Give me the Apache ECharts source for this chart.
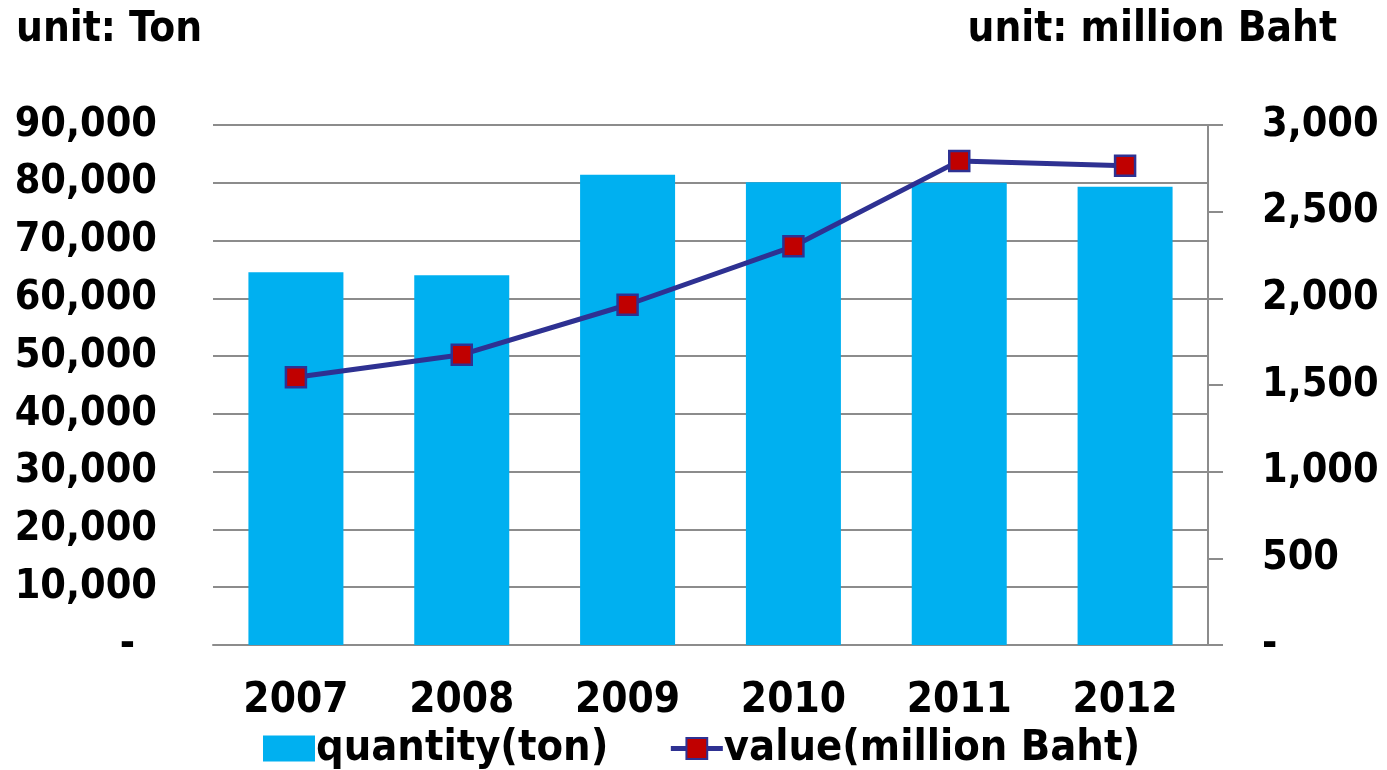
<!DOCTYPE html>
<html>
<head>
<meta charset="utf-8">
<script src="https://cdn.jsdelivr.net/npm/echarts@6/dist/echarts.min.js"></script>
<style>
html,body{margin:0;padding:0;background:#fff;}
#chart{width:1387px;height:770px;}
</style>
</head>
<body>
<div id="chart"></div>
<script>
const years = ['2007','2008','2009','2010','2011','2012'];
const quantityTon = [64500, 64000, 81400, 80100, 80000, 79300];
const valueMillionBaht = [1545, 1675, 1963, 2300, 2793, 2765];
const leftTicks = {min: 0, max: 90000, interval: 10000};
const rightTicks = {min: 0, max: 3000, interval: 500};
const titleLeft = 'unit: Ton';
const titleRight = 'unit: million Baht';
const seriesNames = ['quantity(ton)', 'value(million Baht)'];

const FONT = '"DejaVu Sans Condensed", "DejaVu Sans", Verdana, sans-serif';
const FS = 41;
const txt = {fontFamily: FONT, fontWeight: 'bold', fontSize: FS, color: '#000'};
const fmtLeft = v => v === 0 ? '{d|-}' : v.toLocaleString('en-US');
const fmtRight = v => v === 0 ? '-' : v.toLocaleString('en-US');
const chart = echarts.init(document.getElementById('chart'));
chart.setOption({
  backgroundColor: '#fff',
  animation: false,
  title: [
    {text: titleLeft, left: 16, top: 9, padding: 0, textStyle: Object.assign({}, txt, {fontSize: 42})},
    {text: titleRight, right: 50, top: 9, padding: 0, textStyle: Object.assign({}, txt, {fontSize: 42})}
  ],
  legend: {
    top: 727,
    left: 263,
    padding: 0,
    itemWidth: 52,
    itemHeight: 26,
    itemGap: 60,
    lineStyle: {width: 5, color: '#2E3192'},
    textStyle: Object.assign({}, txt, {fontSize: 43, padding: [0,0,0,-4]}),
    data: [{name: seriesNames[0], icon: 'rect'}, {name: seriesNames[1]}]
  },
  grid: {left: 213, right: 179, top: 125, bottom: 125, containLabel: false},
  xAxis: {
    type: 'category',
    data: years,
    axisLine: {show: true, lineStyle: {color: '#8c8c8c', width: 2}},
    axisTick: {show: false},
    axisLabel: Object.assign({}, txt, {fontSize: 42, margin: 35})
  },
  yAxis: [
    {
      type: 'value', position: 'left',
      min: leftTicks.min, max: leftTicks.max, interval: leftTicks.interval,
      axisLine: {show: false}, axisTick: {show: false},
      splitLine: {show: true, lineStyle: {color: '#8c8c8c', width: 2}},
      axisLabel: Object.assign({}, txt, {margin: 56, formatter: fmtLeft,
        rich: {d: {fontFamily: FONT, fontWeight: 'bold', fontSize: FS, color: '#000', padding: [0, 22, 0, 0]}}})
    },
    {
      type: 'value', position: 'right',
      min: rightTicks.min, max: rightTicks.max, interval: rightTicks.interval,
      axisLine: {show: true, lineStyle: {color: '#8c8c8c', width: 2}},
      axisTick: {show: true, inside: false, length: 15, lineStyle: {color: '#8c8c8c', width: 2}},
      splitLine: {show: false},
      axisLabel: Object.assign({}, txt, {margin: 54, formatter: fmtRight})
    }
  ],
  series: [
    {
      name: seriesNames[0], type: 'bar', yAxisIndex: 0, data: quantityTon,
      barWidth: 95,
      itemStyle: {color: '#00B0F0'}
    },
    {
      name: seriesNames[1], type: 'line', yAxisIndex: 1, data: valueMillionBaht,
      symbol: 'rect', symbolSize: 20,
      lineStyle: {color: '#2E3192', width: 5},
      itemStyle: {color: '#C00000', borderColor: '#2E3192', borderWidth: 2.5}
    }
  ]
});
</script>
</body>
</html>
